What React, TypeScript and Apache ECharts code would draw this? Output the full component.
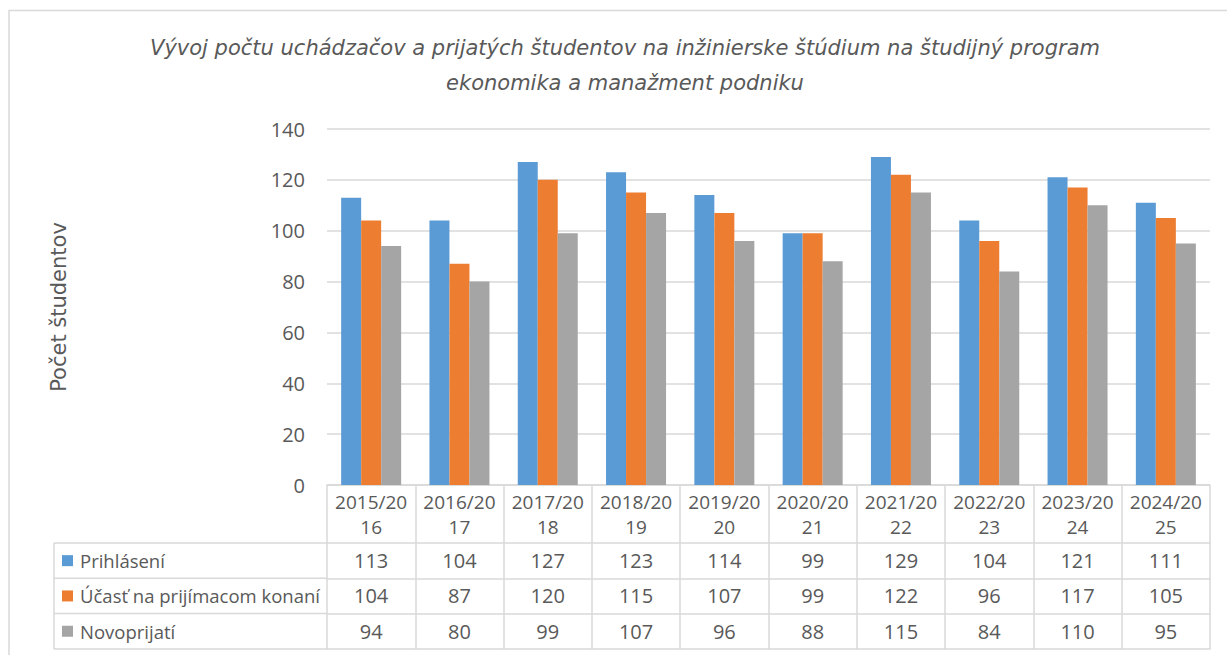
import React, { useEffect, useRef } from "react";
import * as echarts from "echarts";

const categories = ["2015/2016", "2016/2017", "2017/2018", "2018/2019", "2019/2020", "2020/2021", "2021/2022", "2022/2023", "2023/2024", "2024/2025"];
const seriesNames = ["Prihlásení", "Účasť na prijímacom konaní", "Novoprijatí"];
const prihlaseni = [113, 104, 127, 123, 114, 99, 129, 104, 121, 111];
const ucast = [104, 87, 120, 115, 107, 99, 122, 96, 117, 105];
const novoprijati = [94, 80, 99, 107, 96, 88, 115, 84, 110, 95];
const colors = ["#5b9bd5", "#ed7d31", "#a5a5a5"];
const titleText = "Vývoj počtu uchádzačov a prijatých študentov na inžinierske štúdium na študijný program\nekonomika a manažment podniku";
const yAxisTitle = "Počet študentov";

const FONT = "'Open Sans', sans-serif";
const WIDE = "'DejaVu Sans', sans-serif";
const TXT = "#595959";
const LINE = "#d9d9d9";

export default function App() {
  const ref = useRef<HTMLDivElement>(null);
  useEffect(() => {
    if (!ref.current) return;
    const chart = echarts.init(ref.current, undefined, { renderer: "svg" });
    const W = 1227, H = 655;
    const gl = 327, gr = 1210, gt = 129, gb = 485;
    const headerH = 58, rowH = 35.3;
    const values = [prihlaseni, ucast, novoprijati];
    const tableBottomOffset = headerH + rowH * 3;

    const xAxes: any[] = [
      {
        type: "category",
        gridIndex: 0,
        position: "bottom",
        data: categories,
        axisLine: { show: true, lineStyle: { color: LINE, width: 1.5 } },
        axisTick: { show: true, interval: 0, length: tableBottomOffset, lineStyle: { color: LINE, width: 1.5 } },
        axisLabel: {
          interval: 0,
          margin: 4,
          color: TXT,
          fontFamily: FONT,
          fontSize: 19,
          lineHeight: 25,
          formatter: (v: string) => v.slice(0, 7) + "\n" + v.slice(7),
        },
      },
    ];
    values.forEach((arr, i) => {
      xAxes.push({
        type: "category",
        gridIndex: 0,
        position: "bottom",
        offset: headerH + rowH * i,
        data: categories,
        axisLine: { show: true, lineStyle: { color: LINE, width: 1.5 } },
        axisTick: { show: false },
        axisLabel: {
          interval: 0,
          margin: 0,
          color: TXT,
          fontFamily: FONT,
          fontSize: 20,
          lineHeight: 35,
          formatter: (_v: string, idx: number) => String(arr[idx]),
        },
      });
    });
    xAxes.push({
      type: "category",
      gridIndex: 0,
      position: "bottom",
      offset: tableBottomOffset,
      data: categories,
      axisLine: { show: true, lineStyle: { color: LINE, width: 1.5 } },
      axisTick: { show: false },
      axisLabel: { show: false },
    });

    const tl = 54;
    const rowLines: any[] = [];
    for (let i = 0; i <= 3; i++) {
      const y = gb + headerH + rowH * i;
      rowLines.push({ type: "line", shape: { x1: tl, y1: y, x2: gl, y2: y }, style: { stroke: LINE, lineWidth: 1.5 } });
    }
    rowLines.push({ type: "line", shape: { x1: tl, y1: gb + headerH, x2: tl, y2: gb + tableBottomOffset }, style: { stroke: LINE, lineWidth: 1.5 } });

    chart.setOption({
      animation: false,
      color: colors,
      grid: { left: gl, right: W - gr, top: gt, bottom: H - gb, containLabel: false },
      legend: {
        orient: "vertical",
        left: 62,
        top: gb + headerH,
        itemWidth: 11,
        itemHeight: 11,
        itemGap: 0,
        padding: 0,
        icon: "rect",
        selectedMode: false,
        data: seriesNames,
        textStyle: { color: TXT, fontFamily: FONT, fontSize: 18.5, lineHeight: rowH, padding: [0, 0, 0, 2] },
      },
      xAxis: xAxes,
      yAxis: {
        type: "value",
        min: 0,
        max: 140,
        interval: 20,
        axisLine: { show: false },
        axisTick: { show: false },
        axisLabel: { color: TXT, fontFamily: FONT, fontSize: 20, margin: 22 },
        splitLine: { lineStyle: { color: LINE, width: 1.5 } },
      },
      series: values.map((arr, i) => ({
        name: seriesNames[i],
        type: "bar",
        xAxisIndex: 0,
        data: arr,
        barWidth: 20,
        barGap: "0%",
        itemStyle: { color: colors[i] },
      })),
      graphic: [
        { type: "rect", shape: { x: 9, y: 10.5, width: 1400, height: 800 }, style: { fill: "none", stroke: LINE, lineWidth: 1.5 }, silent: true },
        {
          type: "text",
          x: 625,
          y: 65,
          style: { text: titleText, fill: TXT, fontFamily: WIDE, fontSize: 21, fontStyle: "italic", align: "center", verticalAlign: "middle", lineHeight: 35 },
        },
        {
          type: "text",
          x: 59,
          y: 307,
          rotation: Math.PI / 2,
          style: { text: yAxisTitle, fill: TXT, fontFamily: WIDE, fontSize: 21, align: "center", verticalAlign: "middle" },
        },
        ...rowLines,
      ],
    });
    return () => chart.dispose();
  }, []);
  return <div ref={ref} style={{ position: "absolute", left: 0, top: 0, width: 1227, height: 655, background: "#fff" }} />;
}
